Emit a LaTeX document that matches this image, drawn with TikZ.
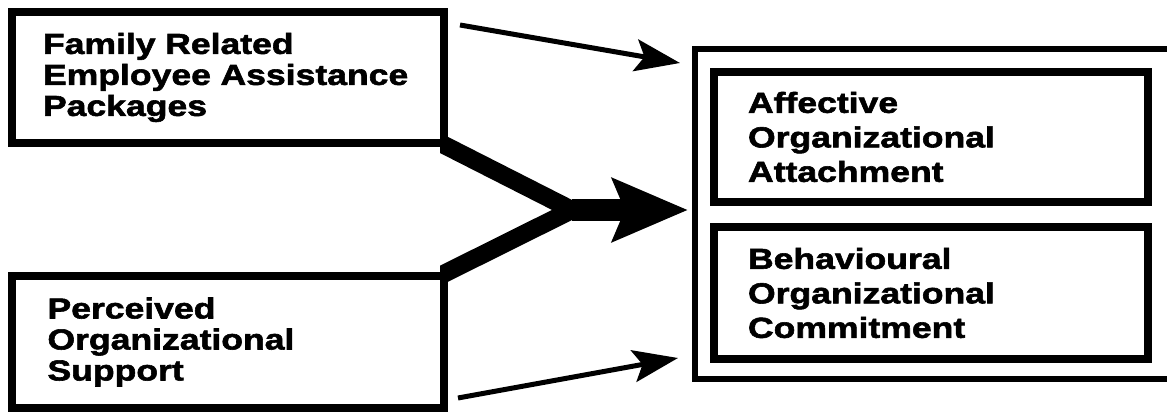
\documentclass[tikz,border=0pt]{standalone}
\usepackage{fontspec}
\newfontfamily\labelfont[FakeStretch=1.23, FakeBold=2]{Liberation Sans}
\usetikzlibrary{arrows.meta, calc, backgrounds}

\begin{document}
\begin{tikzpicture}[x=1pt, y=1pt,
    box/.style={draw=black, fill=white, line width=8pt, rectangle, align=left, inner ysep=0pt},
    leftfont/.style={font={\labelfont\bfseries\fontsize{28.9pt}{31pt}\selectfont}},
    rightfont/.style={font={\labelfont\bfseries\fontsize{28.9pt}{34.5pt}\selectfont}},
    thinarrow/.style={line width=5pt, -{Stealth[length=45pt, width=32pt, inset=9pt]}},
    branch/.style={line width=18pt},
    bigarrow/.style={line width=22pt, -{Stealth[length=75pt, width=62pt, inset=12pt]}}]

            \useasboundingbox (0, 0) rectangle (1167, 413);

            % predictors
            \node[box, leftfont, minimum width=432pt, minimum height=131pt, inner xsep=31pt, text width=370pt]
                (fam) at (228, 335.5) {Family Related\\Employee Assistance\\Packages};
            \node[box, leftfont, minimum width=432pt, minimum height=132pt, inner xsep=36pt, text width=360pt]
                (perc) at (227.5, 71) {Perceived\\Organizational\\Support};

            % outcomes
            \node[draw=black, line width=6pt, rectangle, minimum width=480pt, minimum height=330pt]
                (outer) at (935, 199) {};
            \node[box, rightfont, minimum width=434pt, minimum height=130pt, inner xsep=34pt, text width=366pt]
                (aff) at (931, 276) {Affective\\Organizational\\Attachment};
            \node[box, rightfont, minimum width=434pt, minimum height=132pt, inner xsep=34pt, text width=366pt]
                (beh) at (931, 120) {Behavioural\\Organizational\\Commitment};

            \coordinate (famtail) at (460, 388);
            \coordinate (famtip) at (680, 350);
            \coordinate (perctail) at (458, 15);
            \coordinate (perctip) at (678, 55);
            \coordinate (junc) at (572, 203);

            \draw[thinarrow] (famtail) -- (famtip);
            \draw[thinarrow] (perctail) -- (perctip);

            % thick fork, cut off at the box edges
            \begin{scope}[on background layer]
                \clip (440, 0) rectangle (700, 413);
                \draw[branch] ($(fam.south east)!-0.15!(junc)$) -- (junc);
                \draw[branch] ($(perc.north east)!-0.15!(junc)$) -- (junc);
            \end{scope}
            \draw[bigarrow, shorten >=4pt] (junc) -- (junc -| outer.west);

\end{tikzpicture}
\end{document}
